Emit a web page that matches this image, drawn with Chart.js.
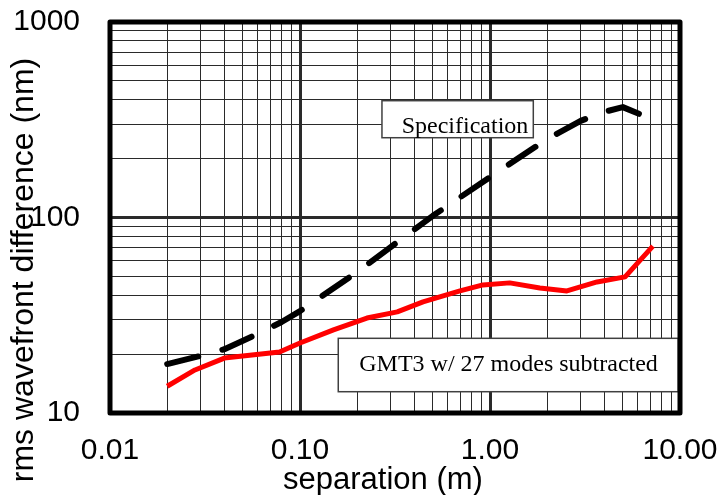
<!DOCTYPE html>
<html>
<head>
<meta charset="utf-8">
<script src="https://cdn.jsdelivr.net/npm/chart.js@4.4.1/dist/chart.umd.min.js"></script>
<style>
  html, body { margin: 0; padding: 0; background: #ffffff; }
  #c { display: block; }
</style>
</head>
<body>
<canvas id="c" width="721" height="495"></canvas>
<script>
// ---- data ----
const specX = [0.02, 0.03, 0.04, 0.06, 0.08, 0.1, 0.2, 0.3, 0.5, 1.0, 2.0, 3.0, 4.0, 5.0, 7.3];
const specY = [17.8, 19.6, 21.2, 25.4, 29.2, 33.2, 52.6, 70.6, 102, 161, 252, 312, 347, 367, 315];

const gmtX = [0.02, 0.028, 0.04, 0.078, 0.1, 0.15, 0.225, 0.325, 0.444, 0.695, 0.918, 1.27, 1.83, 2.54, 3.66, 5.14, 7.2];
const gmtY = [13.7, 16.6, 19.1, 20.5, 22.8, 26.6, 30.6, 32.9, 37.0, 42.1, 45.2, 46.3, 43.6, 42.1, 46.8, 49.7, 71.4];

const xDecades = [0.01, 0.1, 1, 10];
const yDecades = [10, 100, 1000];
const xTickLabels = ['0.01', '0.10', '1.00', '10.00'];
const yTickLabels = ['10', '100', '1000'];

const seriesNames = ['Specification', 'GMT3 w/ 27 modes subtracted'];
const xTitle = 'separation (m)';
const yTitle = 'rms wavefront difference (nm)';

// ---- helpers ----
function isDecade(v) {
  const l = Math.log10(v);
  return Math.abs(l - Math.round(l)) < 1e-9;
}
function logTicks(decades) {
  const t = [];
  for (let i = 0; i < decades.length - 1; i++) {
    for (let m = 1; m <= 9; m++) t.push({ value: parseFloat((m * decades[i]).toPrecision(4)) });
  }
  t.push({ value: decades[decades.length - 1] });
  return t;
}
function labelFor(v, decades, labels) {
  for (let i = 0; i < decades.length; i++) {
    if (Math.abs(v - decades[i]) / decades[i] < 1e-9) return labels[i];
  }
  return '';
}
const pts = (xs, ys) => xs.map((x, i) => ({ x: x, y: ys[i] }));
function noOverflow(s) {
  s.paddingLeft = 0; s.paddingRight = 0; s.paddingTop = 0; s.paddingBottom = 0;
}

// ---- annotation plugin: text boxes, axis titles, frame ----
const overlay = {
  id: 'overlay',
  afterDraw(chart) {
    const ctx = chart.ctx;
    const xs = chart.scales.x, ys = chart.scales.y;
    const ca = chart.chartArea;
    const px = v => xs.getPixelForValue(v);
    const py = v => ys.getPixelForValue(v);

    // legend-like text boxes (positions in data coordinates)
    const boxes = [
      { text: seriesNames[0], x0: 0.270, x1: 1.69, yTop: 395.8, yBot: 255.9, tx: 0.343, ty: 272 },
      { text: seriesNames[1], x0: 0.159, x1: 9.80, yTop: 24.1, yBot: 12.85, tx: 0.205, ty: 16.46 }
    ];
    ctx.save();
    boxes.forEach(b => {
      const l = px(b.x0), r = px(b.x1), t = py(b.yTop), bt = py(b.yBot);
      ctx.fillStyle = '#ffffff';
      ctx.fillRect(l, t, r - l, bt - t);
      ctx.lineWidth = 1.5;
      ctx.strokeStyle = '#404040';
      ctx.strokeRect(l, t, r - l, bt - t);
      ctx.fillStyle = '#000000';
      ctx.font = '24px "Liberation Serif", "Times New Roman", serif';
      ctx.textAlign = 'left';
      ctx.textBaseline = 'alphabetic';
      ctx.fillText(b.text, px(b.tx), py(b.ty));
    });

    // plot frame
    ctx.lineWidth = 5;
    ctx.strokeStyle = '#000000';
    ctx.lineJoin = 'round';
    ctx.strokeRect(ca.left, ca.top, ca.right - ca.left, ca.bottom - ca.top);

    // axis titles
    ctx.fillStyle = '#000000';
    ctx.font = '31px "Liberation Sans", Arial, sans-serif';
    ctx.textAlign = 'center';
    ctx.textBaseline = 'alphabetic';
    ctx.fillText(xTitle, 383, 489);

    ctx.translate(33, 270);
    ctx.rotate(-Math.PI / 2);
    ctx.font = '32px "Liberation Sans", Arial, sans-serif';
    ctx.fillText(yTitle, 0, 0);
    ctx.restore();
  }
};

const gridCommon = {
  color: '#2a2a2a',
  lineWidth: c => (c.tick && isDecade(c.tick.value)) ? 3 : 1,
  drawTicks: false
};

new Chart(document.getElementById('c'), {
  type: 'scatter',
  data: {
    datasets: [
      {
        label: seriesNames[0],
        data: pts(specX, specY),
        showLine: true,
        borderColor: '#000000',
        backgroundColor: '#000000',
        borderWidth: 6,
        borderDash: [32, 25],
        borderCapStyle: 'round',
        borderJoinStyle: 'round',
        pointRadius: 0,
        tension: 0
      },
      {
        label: seriesNames[1],
        data: pts(gmtX, gmtY),
        showLine: true,
        borderColor: '#ff0000',
        backgroundColor: '#ff0000',
        borderWidth: 5,
        borderJoinStyle: 'round',
        borderCapStyle: 'butt',
        pointRadius: 0,
        tension: 0
      }
    ]
  },
  options: {
    responsive: false,
    animation: false,
    devicePixelRatio: 1,
    layout: { padding: { top: 22, right: 41, left: 0, bottom: 0 } },
    plugins: { legend: { display: false }, tooltip: { enabled: false } },
    scales: {
      x: {
        type: 'logarithmic',
        min: xDecades[0],
        max: xDecades[xDecades.length - 1],
        afterBuildTicks: s => { s.ticks = logTicks(xDecades); },
        afterFit: s => { s.height = 82; noOverflow(s); },
        border: { display: false },
        grid: gridCommon,
        ticks: {
          autoSkip: false,
          maxRotation: 0,
          padding: 20,
          color: '#000000',
          font: { family: '"Liberation Sans", Arial, sans-serif', size: 30 },
          callback: v => labelFor(v, xDecades, xTickLabels)
        }
      },
      y: {
        type: 'logarithmic',
        min: yDecades[0],
        max: yDecades[yDecades.length - 1],
        afterBuildTicks: s => { s.ticks = logTicks(yDecades); },
        afterFit: s => { s.width = 110; noOverflow(s); },
        border: { display: false },
        grid: gridCommon,
        ticks: {
          autoSkip: false,
          padding: 30,
          color: '#000000',
          font: { family: '"Liberation Sans", Arial, sans-serif', size: 30 },
          callback: v => labelFor(v, yDecades, yTickLabels)
        }
      }
    }
  },
  plugins: [overlay]
});
</script>
</body>
</html>
